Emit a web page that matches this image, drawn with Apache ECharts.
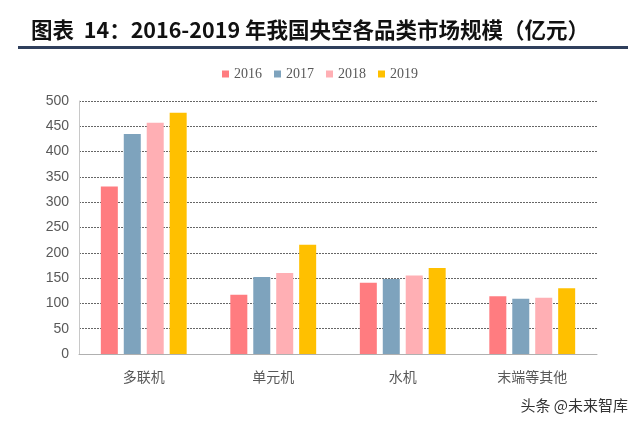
<!DOCTYPE html>
<html>
<head>
<meta charset="utf-8">
<script src="https://cdn.jsdelivr.net/npm/echarts@6/dist/echarts.min.js"></script>
<style>
  html, body { margin: 0; padding: 0; background: #fff; }
  #chart { width: 640px; height: 425px; }
</style>
</head>
<body>
<div id="chart"></div>
<script>
  // 央空各品类市场规模（亿元）
  var CATEGORIES = ["多联机", "单元机", "水机", "末端等其他"];
  var YEARS = ["2016", "2017", "2018", "2019"];
  var V2016 = [331, 117, 141, 114];
  var V2017 = [435, 152, 148, 109];
  var V2018 = [457, 160, 155, 111];
  var V2019 = [477, 216, 170, 130];
  var COLORS = ["#ff7c80", "#7ea3bd", "#ffafb4", "#ffc000"];

  var chart = echarts.init(document.getElementById("chart"), null, { renderer: "canvas" });
  var values = [V2016, V2017, V2018, V2019];

  chart.setOption({
    backgroundColor: "#fff",
    animation: false,
    title: {
      text: "图表  14：2016-2019 年我国央空各品类市场规模（亿元）",
      left: 26, top: 14,
      textStyle: { color: "#111", fontSize: 21.5, fontWeight: "bold", fontFamily: "Noto Sans CJK SC" }
    },
    graphic: [
      { type: "rect", shape: { x: 18, y: 46, width: 610, height: 3 }, style: { fill: "#2f3f5c" } },
      {
        type: "text", right: 12, top: 398,
        style: { text: "头条 @未来智库", fill: "#333", font: "15px 'Noto Sans CJK SC'" }
      }
    ],
    legend: {
      top: 62, left: "center",
      itemWidth: 7, itemHeight: 7, itemGap: 12, icon: "rect",
      textStyle: { color: "#595959", fontSize: 14, fontFamily: "Liberation Serif" },
      data: YEARS
    },
    grid: { left: 79, right: 43, top: 101, bottom: 71, containLabel: false },
    xAxis: {
      type: "category", data: CATEGORIES,
      axisLine: { lineStyle: { color: "#b0b0b0", width: 1 } },
      axisTick: { inside: true, length: 3, lineStyle: { color: "#b0b0b0" } },
      axisLabel: { color: "#595959", fontSize: 14, margin: 16, fontFamily: "Noto Sans CJK SC" }
    },
    yAxis: {
      type: "value", min: 0, max: 500, interval: 50,
      axisLine: { show: true, lineStyle: { color: "#c8c8c8" } },
      axisTick: { show: false },
      axisLabel: { color: "#595959", fontSize: 14, margin: 10, fontFamily: "Liberation Sans" },
      splitLine: { lineStyle: { color: "#666", type: [2, 1], width: 1 } }
    },
    series: YEARS.map(function (y, i) {
      return {
        name: y, type: "bar", data: values[i],
        barWidth: 17, barGap: "35%",
        itemStyle: { color: COLORS[i] }
      };
    })
  });
</script>
</body>
</html>
